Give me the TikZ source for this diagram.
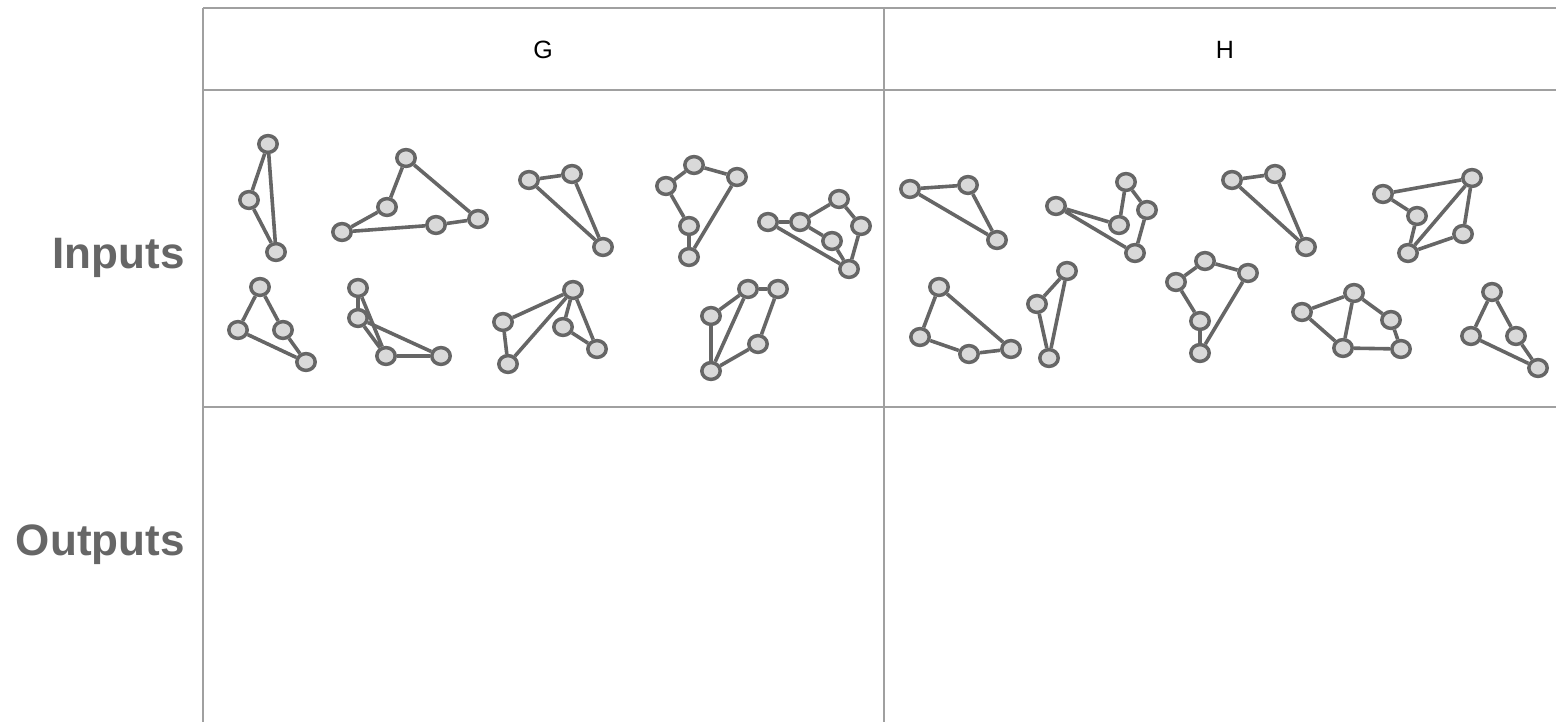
\documentclass[tikz,border=0pt]{standalone}
\usepackage{fontspec}
\setmainfont{Liberation Sans}
\usetikzlibrary{shapes.geometric,backgrounds}
\definecolor{gridc}{HTML}{A0A0A0}
\definecolor{edgec}{HTML}{666666}
\definecolor{nodef}{HTML}{D9D9D9}
\definecolor{labc}{HTML}{666666}
\tikzset{
  v/.style={ellipse,draw=edgec,fill=nodef,line width=1.75pt,minimum width=9.2pt,minimum height=8.4pt,inner sep=0pt},
  e/.style={draw=edgec,line width=1.8pt},
  grid/.style={draw=gridc,line width=1pt},
  rowlab/.style={anchor=east,inner sep=0pt,font=\fontsize{22}{26}\selectfont\bfseries,text=labc},
  collab/.style={font=\fontsize{12.5}{15}\selectfont,text=black}
}
\begin{document}
\begin{tikzpicture}[x=0.5pt,y=-0.5pt]
\useasboundingbox (0,0) rectangle (1556,722);
% table
\coordinate (tl) at (203,8); \coordinate (tr) at (1556,8);
\coordinate (hl) at (203,90); \coordinate (hr) at (1556,90);
\coordinate (il) at (203,407); \coordinate (ir) at (1556,407);
\coordinate (bl) at (203,722);
\coordinate (mt) at (884,8); \coordinate (mb) at (884,722);
\draw[grid] (tl) -- (tr);
\draw[grid] (hl) -- (hr);
\draw[grid] (il) -- (ir);
\draw[grid] (tl) -- (bl);
\draw[grid] (mt) -- (mb);
\node[collab] (G) at (543,50) {G};
\node[collab] (H) at (1225,50) {H};
\node[rowlab] (inputs) at (185,258) {Inputs};
\node[rowlab] (outputs) at (185,545) {Outputs};
% graph 1
\node[v] (a1) at (268,144) {}; \node[v] (a2) at (249,200) {}; \node[v] (a3) at (276,252) {};
% graph 2
\node[v] (b1) at (406,158) {}; \node[v] (b2) at (387,207) {}; \node[v] (b3) at (342,232) {};
\node[v] (b4) at (436,225) {}; \node[v] (b5) at (478,219) {};
% graph 3
\node[v] (c1) at (529,180) {}; \node[v] (c2) at (572,174) {}; \node[v] (c3) at (603,247) {};
% graph 4
\node[v] (d1) at (694,165) {}; \node[v] (d2) at (737,177) {}; \node[v] (d3) at (666,186) {};
\node[v] (d4) at (689,226) {}; \node[v] (d5) at (689,257) {};
% graph 5
\node[v] (e1) at (768,222) {}; \node[v] (e2) at (800,222) {}; \node[v] (e3) at (839,199) {};
\node[v] (e4) at (861,226) {}; \node[v] (e5) at (832,241) {}; \node[v] (e6) at (849,269) {};
% graph 6
\node[v] (f1) at (260,287) {}; \node[v] (f2) at (238,330) {}; \node[v] (f3) at (283,330) {}; \node[v] (f4) at (306,362) {};
% graph 7
\node[v] (g1) at (358,288) {}; \node[v] (g2) at (358,318) {}; \node[v] (g3) at (386,356) {}; \node[v] (g4) at (441,356) {};
% graph 8
\node[v] (h1) at (573,290) {}; \node[v] (h2) at (503,322) {}; \node[v] (h3) at (563,327) {};
\node[v] (h4) at (597,349) {}; \node[v] (h5) at (508,364) {};
% graph 9
\node[v] (i1) at (748,289) {}; \node[v] (i2) at (778,289) {}; \node[v] (i3) at (711,316) {};
\node[v] (i4) at (758,344) {}; \node[v] (i5) at (711,371) {};
% graph 10
\node[v] (j1) at (910,189) {}; \node[v] (j2) at (968,185) {}; \node[v] (j3) at (997,240) {};
% graph 11
\node[v] (k1) at (1056,206) {}; \node[v] (k2) at (1126,182) {}; \node[v] (k3) at (1147,210) {};
\node[v] (k4) at (1119,225) {}; \node[v] (k5) at (1135,253) {};
% graph 12
\node[v] (l1) at (1232,180) {}; \node[v] (l2) at (1275,174) {}; \node[v] (l3) at (1306,247) {};
% graph 13
\node[v] (m1) at (1383,194) {}; \node[v] (m2) at (1472,178) {}; \node[v] (m3) at (1417,216) {};
\node[v] (m4) at (1463,234) {}; \node[v] (m5) at (1408,253) {};
% graph 14
\node[v] (n1) at (939,287) {}; \node[v] (n2) at (920,337) {}; \node[v] (n3) at (969,354) {}; \node[v] (n4) at (1011,349) {};
% graph 15
\node[v] (o1) at (1067,271) {}; \node[v] (o2) at (1037,304) {}; \node[v] (o3) at (1049,358) {};
% graph 16
\node[v] (p1) at (1205,261) {}; \node[v] (p2) at (1248,273) {}; \node[v] (p3) at (1176,282) {};
\node[v] (p4) at (1200,321) {}; \node[v] (p5) at (1200,353) {};
% graph 17
\node[v] (q1) at (1302,312) {}; \node[v] (q2) at (1354,293) {}; \node[v] (q3) at (1391,320) {};
\node[v] (q4) at (1343,348) {}; \node[v] (q5) at (1401,349) {};
% graph 18
\node[v] (r1) at (1492,292) {}; \node[v] (r2) at (1471,336) {}; \node[v] (r3) at (1516,336) {}; \node[v] (r4) at (1538,368) {};
\begin{scope}[on background layer]
\draw[e] (a1) -- (a2) -- (a3) -- (a1);
\draw[e] (b1) -- (b2) -- (b3) -- (b4) -- (b5) -- (b1);
\draw[e] (c1) -- (c2) -- (c3) -- (c1);
\draw[e] (d3) -- (d1) -- (d2) -- (d5) -- (d4) -- (d3);
\draw[e] (e1) -- (e2) -- (e3) -- (e4) -- (e6) -- (e1);
\draw[e] (e2) -- (e5) -- (e6);
\draw[e] (f1) -- (f2) -- (f4) -- (f3) -- (f1);
\draw[e] (g1) -- (g2) -- (g3) -- (g1);
\draw[e] (g2) -- (g4) -- (g3);
\draw[e] (h2) -- (h1) -- (h5) -- (h2);
\draw[e] (h1) -- (h3) -- (h4) -- (h1);
\draw[e] (i3) -- (i1) -- (i2) -- (i4) -- (i5) -- (i3);
\draw[e] (i1) -- (i5);
\draw[e] (j1) -- (j2) -- (j3) -- (j1);
\draw[e] (k1) -- (k4) -- (k2) -- (k3) -- (k5) -- (k1);
\draw[e] (l1) -- (l2) -- (l3) -- (l1);
\draw[e] (m1) -- (m2) -- (m4) -- (m5) -- (m3) -- (m1);
\draw[e] (m2) -- (m5);
\draw[e] (n1) -- (n2) -- (n3) -- (n4) -- (n1);
\draw[e] (o1) -- (o2) -- (o3) -- (o1);
\draw[e] (p3) -- (p1) -- (p2) -- (p5) -- (p4) -- (p3);
\draw[e] (q1) -- (q2) -- (q3) -- (q5) -- (q4) -- (q1);
\draw[e] (q2) -- (q4);
\draw[e] (r1) -- (r2) -- (r4) -- (r3) -- (r1);
\end{scope}
\end{tikzpicture}
\end{document}
